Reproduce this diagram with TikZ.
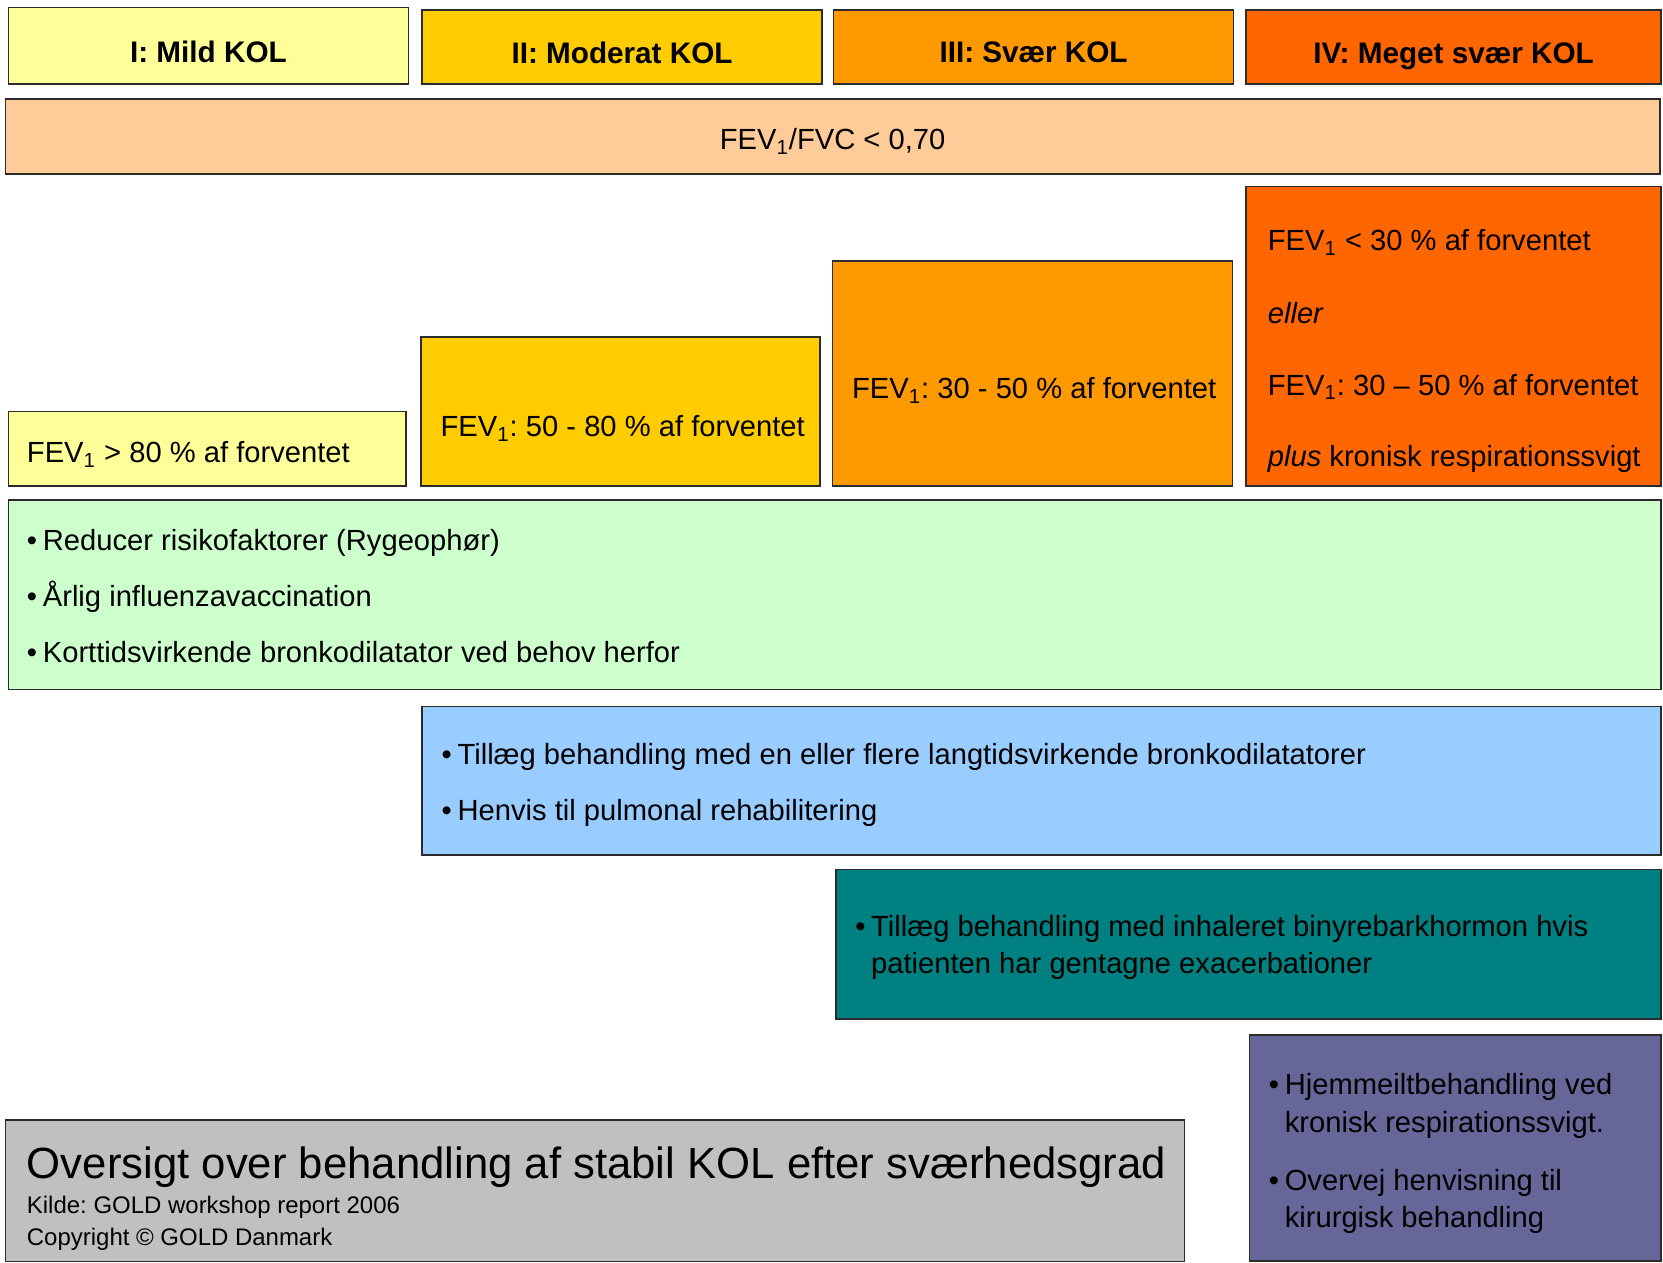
\documentclass[tikz,border=0pt]{standalone}
\usepackage{fontspec}
\setmainfont{Liberation Sans}
\usetikzlibrary{fit}
\frenchspacing
\newcommand\FEV{FEV\textsubscript{1}}
\newcommand\bul{\makebox[7.5pt][l]{\textbullet}}
\definecolor{cI}{HTML}{FFFF99}
\definecolor{cII}{HTML}{FFCC00}
\definecolor{cIII}{HTML}{FF9900}
\definecolor{cIV}{HTML}{FF6600}
\definecolor{cFVC}{HTML}{FFCC99}
\definecolor{cGreen}{HTML}{CCFFCC}
\definecolor{cBlue}{HTML}{99CCFF}
\definecolor{cTeal}{HTML}{008080}
\definecolor{cPurple}{HTML}{666699}
\definecolor{cGrey}{HTML}{C0C0C0}
\definecolor{edge}{HTML}{2B2B2B}
\tikzset{
  panel/.style={draw=edge, line width=0.75pt, inner sep=0pt, fill=#1},
  txt/.style={anchor=base west, inner sep=0pt, font=\fontsize{13.75}{16}\selectfont\frenchspacing},
  ctxt/.style={anchor=base, inner sep=0pt, font=\fontsize{13.75}{16}\selectfont\frenchspacing},
  head/.style={anchor=base, inner sep=0pt, font=\fontsize{14}{16}\selectfont\bfseries\frenchspacing},
  title/.style={anchor=base west, inner sep=0pt, font=\fontsize{20.6}{24}\selectfont\frenchspacing},
  small/.style={anchor=base west, inner sep=0pt, font=\fontsize{11.3}{13}\selectfont\frenchspacing},
}
\begin{document}
\begin{tikzpicture}[x=0.5pt,y=-0.5pt]
\useasboundingbox (0,0) rectangle (1568,1190);
% stage headers
\node[panel=cI,   fit={(8,7)(385,79)}]     (hI)   {};
\node[panel=cII,  fit={(398,9.5)(775,79)}] (hII)  {};
\node[panel=cIII, fit={(786,9.5)(1163,79)}] (hIII) {};
\node[panel=cIV,  fit={(1175,9.5)(1566,79)}] (hIV) {};
\node[head] (tI)   at (196.5,59) {I: Mild KOL};
\node[head] (tII)  at (586.5,60) {II: Moderat KOL};
\node[head] (tIII) at (974.5,59) {III: Svær KOL};
\node[head] (tIV)  at (1370.5,60) {IV: Meget svær KOL};
% FEV1/FVC
\node[panel=cFVC, fit={(5,93.5)(1565,164)}] (fvc) {};
\node[ctxt] (tfvc) at (785,141) {\FEV/FVC < 0,70};
% criteria
\node[panel=cI,   fit={(8,388)(383,458)}]    (c1) {};
\node[panel=cII,  fit={(397,317.5)(773,458)}] (c2) {};
\node[panel=cIII, fit={(785,246)(1162,458)}]  (c3) {};
\node[panel=cIV,  fit={(1175,176)(1566,458)}] (c4) {};
\node[txt] (tc1) at (25,436.5) {\FEV{} > 80 \% af forventet};
\node[txt] (tc2) at (415,411.5) {\FEV: 50 - 80 \% af forventet};
\node[txt] (tc3) at (803,376) {\FEV: 30 - 50 \% af forventet};
\node[txt] (tc4a) at (1195,236.5) {\FEV{} < 30 \% af forventet};
\node[txt] (tc4b) at (1195,305) {\textit{eller}};
\node[txt] (tc4c) at (1195,372.5) {\FEV: 30 – 50 \% af forventet};
\node[txt] (tc4d) at (1195,440) {\textit{plus} kronisk respirationssvigt};
% treatments
\node[panel=cGreen, fit={(8,471.5)(1566,650)}] (green) {};
\node[txt] (g1) at (25,519) {\bul Reducer risikofaktorer (Rygeophør)};
\node[txt] (g2) at (25,572) {\bul Årlig influenzavaccination};
\node[txt] (g3) at (25,625) {\bul Korttidsvirkende bronkodilatator ved behov herfor};
\node[panel=cBlue, fit={(398,666)(1566,806)}] (blue) {};
\node[txt] (b1) at (416,721) {\bul Tillæg behandling med en eller flere langtidsvirkende bronkodilatatorer};
\node[txt] (b2) at (416,774) {\bul Henvis til pulmonal rehabilitering};
\node[panel=cTeal, fit={(788,820)(1566,961)}] (teal) {};
\node[txt] (t1) at (806,883) {\bul Tillæg behandling med inhaleret binyrebarkhormon hvis};
\node[txt] (t2) at (821,918) {patienten har gentagne exacerbationer};
\node[panel=cPurple, fit={(1178,976)(1566,1189)}] (purple) {};
\node[txt] (p1) at (1196,1032) {\bul Hjemmeiltbehandling ved};
\node[txt] (p2) at (1211,1068) {kronisk respirationssvigt.};
\node[txt] (p3) at (1196,1122) {\bul Overvej henvisning til};
\node[txt] (p4) at (1211,1157) {kirurgisk behandling};
% caption box
\node[panel=cGrey, fit={(5,1056)(1117,1189.5)}] (grey) {};
\node[title] (ttl) at (25,1111) {Oversigt over behandling af stabil KOL efter sværhedsgrad};
\node[small] (src) at (25,1144) {Kilde: GOLD workshop report 2006};
\node[small] (cpy) at (25,1174) {Copyright © GOLD Danmark};
\end{tikzpicture}
\end{document}
